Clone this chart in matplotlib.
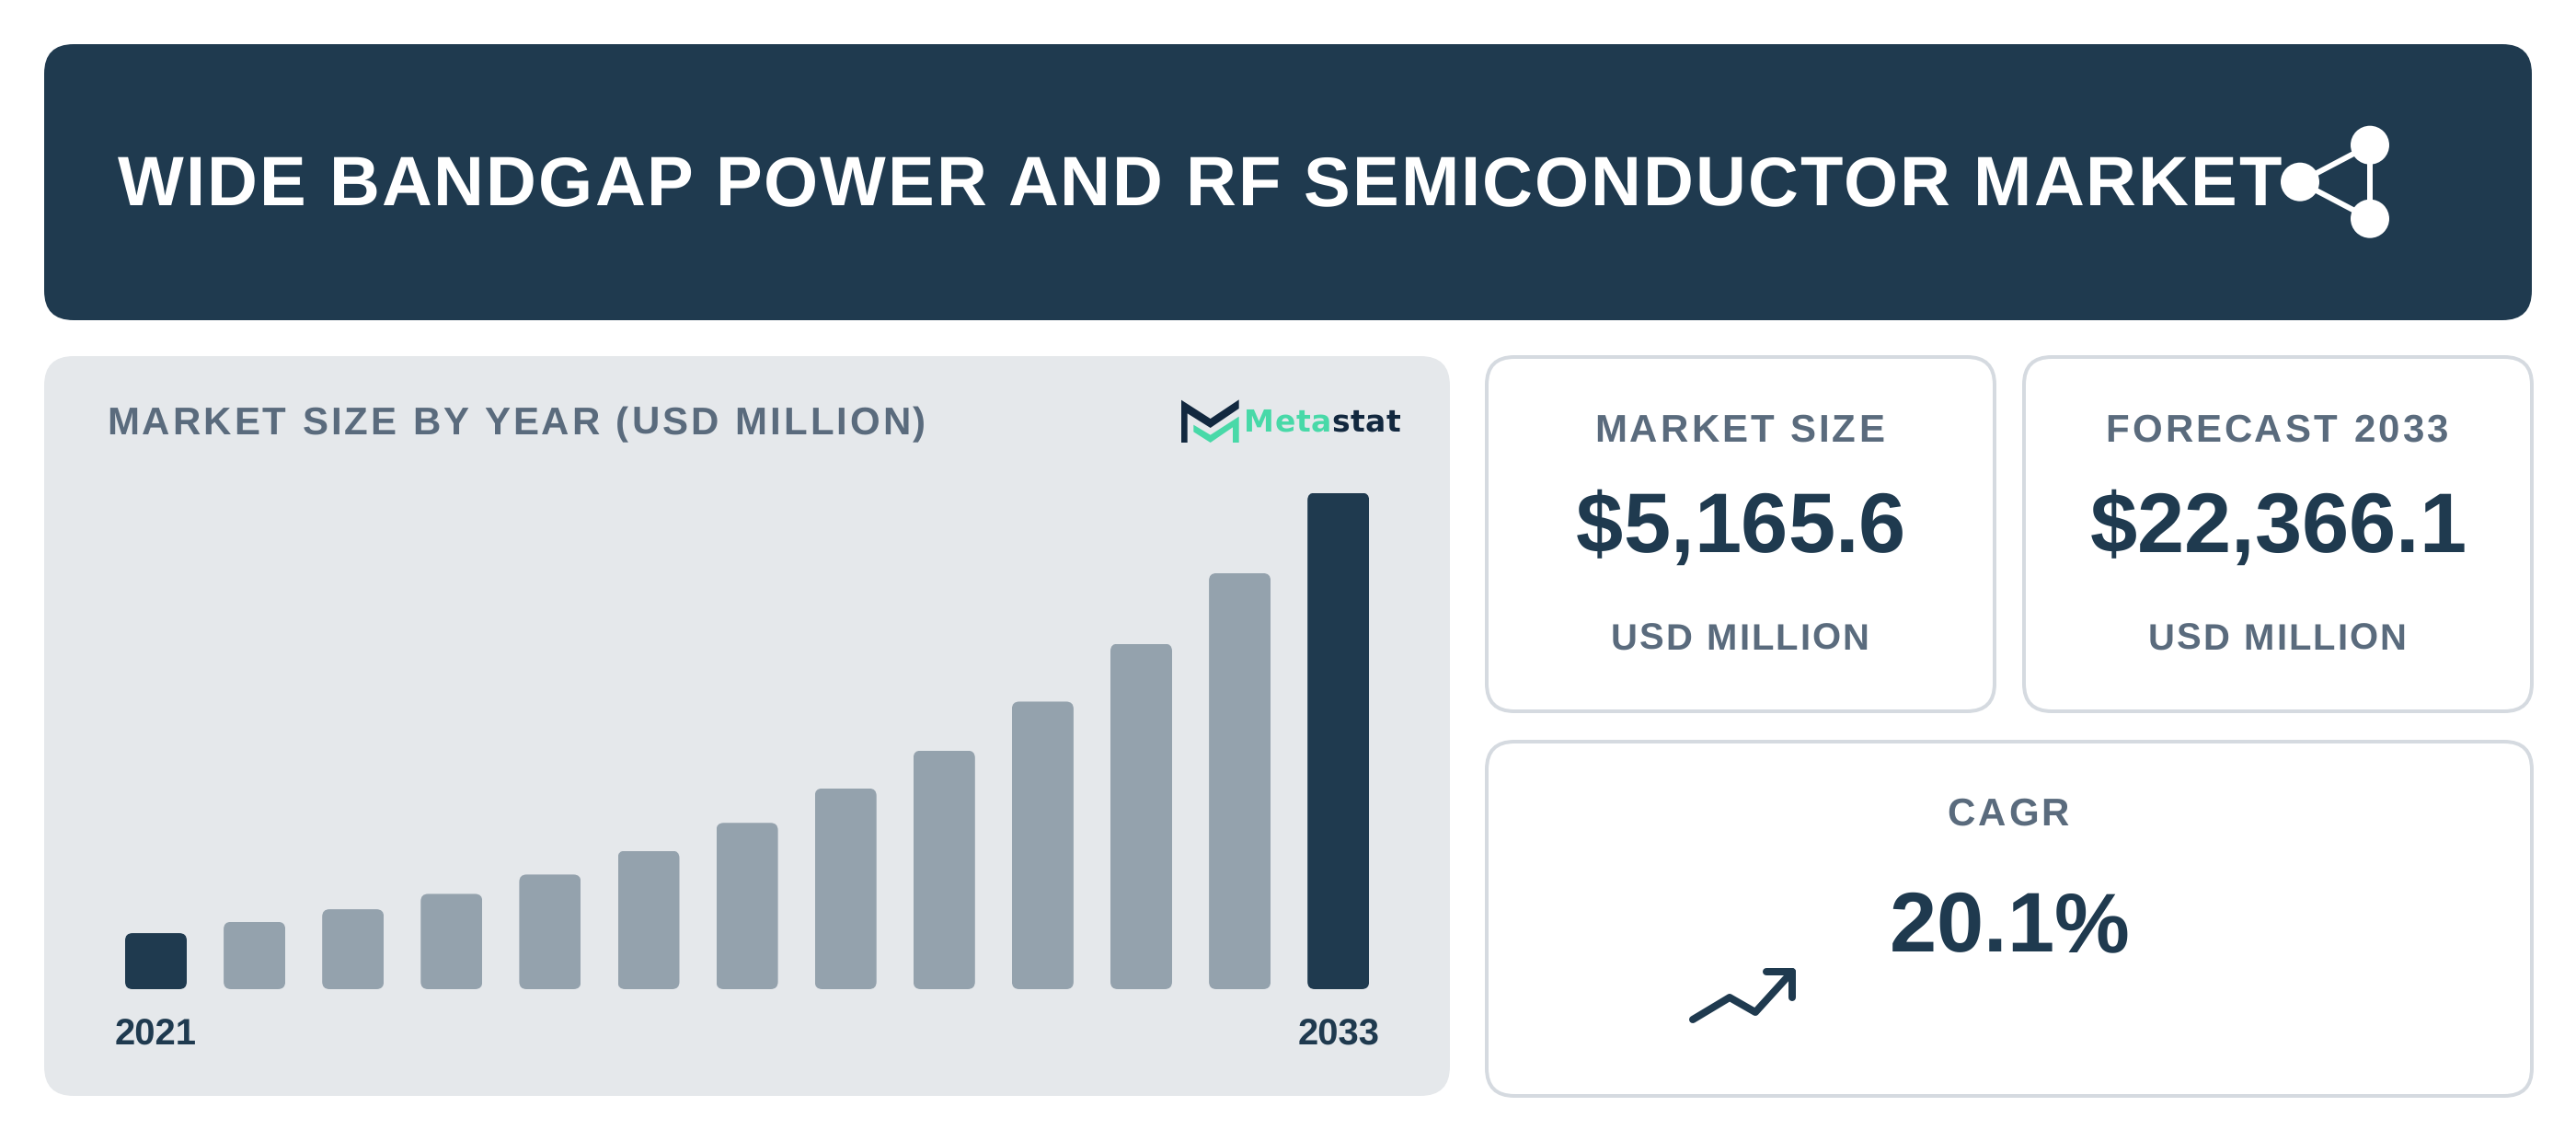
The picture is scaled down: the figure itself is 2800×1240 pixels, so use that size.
import matplotlib
matplotlib.use("Agg")
import matplotlib.pyplot as plt
from matplotlib.patches import FancyBboxPatch, Circle, Polygon
from matplotlib.text import Text
from matplotlib.transforms import IdentityTransform, Bbox
from matplotlib.font_manager import FontProperties, findfont, get_font
from matplotlib.ft2font import LoadFlags, Kerning

# ---- data -------------------------------------------------------------
years = [2021, 2022, 2023, 2024, 2025, 2026, 2027, 2028, 2029, 2030, 2031, 2032, 2033]
market_size = [2525, 3035, 3601, 4293, 5165.6, 6239, 7493, 9045, 10751, 12957, 15566, 18741, 22366.1]
highlight_years = [2021, 2033]
title_text = "WIDE BANDGAP POWER AND RF SEMICONDUCTOR MARKET"
panel_title = "MARKET SIZE BY YEAR (USD MILLION)"
card_label_size = "MARKET SIZE"
card_value_size = "$5,165.6"
card_label_forecast = "FORECAST 2033"
card_value_forecast = "$22,366.1"
card_unit = "USD MILLION"
card_label_cagr = "CAGR"
card_value_cagr = "20.1%"

# ---- styling ----------------------------------------------------------
NAVY = "#1F3A4F"
BAR_MUTED = "#94A2AD"
PANEL = "#E5E8EB"
GREY = "#5A6B7D"
BORDER = "#D5DAE0"
LOGO_DARK = "#12283F"
LOGO_GREEN = "#48D9A8"
W, H, DPI = 2800, 1240, 100

plt.rcParams["text.hinting"] = "no_hinting"
plt.rcParams["font.family"] = ["Liberation Sans", "DejaVu Sans"]


def px(size):
    return size * 72 / DPI


class SpacedText(Text):
    """One text artist whose glyphs are laid out with CSS-like letter spacing."""

    def __init__(self, x, y, s, spacing=0.0, **kw):
        super().__init__(x, y, s, va="baseline", **kw)
        self._spacing = spacing

    def _glyph_positions(self):
        font = get_font(findfont(self.get_fontproperties()))
        font.set_size(self.get_fontsize(), DPI)
        pen, prev, out = 0.0, None, []
        for c in self.get_text():
            idx = font.get_char_index(ord(c))
            if prev is not None:
                pen += font.get_kerning(prev, idx, Kerning.DEFAULT) / 64
            out.append(pen)
            glyph = font.load_char(ord(c), flags=LoadFlags.NO_HINTING)
            pen += glyph.linearHoriAdvance / 65536 + self._spacing
            prev = idx
        return out, pen

    def _origin(self):
        pos, total = self._glyph_positions()
        x, y = self.get_transform().transform(self.get_unitless_position())
        if self.get_horizontalalignment() == "center":
            x -= total / 2
        return x, y, pos, total

    def draw(self, renderer):
        if not self.get_visible():
            return
        x, y, pos, _ = self._origin()
        for c, dx in zip(self.get_text(), pos):
            if c == " ":
                continue
            t = Text(x + dx, y, c, color=self.get_color(), va="baseline", ha="left",
                     fontproperties=self.get_fontproperties(),
                     transform=IdentityTransform())
            t.set_figure(self.get_figure())
            t.draw(renderer)

    def get_window_extent(self, renderer=None, dpi=None):
        x, y, _, total = self._origin()
        size = self.get_fontsize() * DPI / 72
        return Bbox.from_extents(x, y - 0.21 * size, x + total, y + 0.73 * size)


fig = plt.figure(figsize=(W / DPI, H / DPI), dpi=DPI, facecolor="white")
bg = fig.add_axes([0, 0, 1, 1])
bg.set_xlim(0, W)
bg.set_ylim(H, 0)
bg.axis("off")


def box(x0, y0, x1, y1, r, fc, ec="none", lw=0):
    bg.add_patch(FancyBboxPatch((x0, y0), x1 - x0, y1 - y0,
                                boxstyle=f"round,pad=0,rounding_size={r}",
                                fc=fc, ec=ec, lw=lw))


def label(x, y, s, size, color, spacing=0.0, ha="center", family="Liberation Sans"):
    t = SpacedText(x, y, s, spacing=spacing, color=color, ha=ha,
                   fontproperties=FontProperties(family=family, weight="bold", size=px(size)),
                   transform=bg.transData)
    bg.add_artist(t)
    return t


# ---- containers -------------------------------------------------------
box(48, 48, 2752, 348, 32, NAVY)
box(48, 387, 1576, 1191, 32, PANEL)
box(1616, 388, 2168, 773, 30, "white", BORDER, px(4))
box(2200, 388, 2752, 773, 30, "white", BORDER, px(4))
box(1616, 806, 2752, 1191, 30, "white", BORDER, px(4))

# ---- header -----------------------------------------------------------
label(128, 223, title_text, 76, "white", spacing=2, ha="left")
share = [(2500, 197.7), (2576, 157.7), (2576, 237.7)]
for a, b in [(0, 1), (0, 2), (1, 2)]:
    bg.plot([share[a][0], share[b][0]], [share[a][1], share[b][1]], color="white", lw=px(6))
for c in share:
    bg.add_patch(Circle(c, 21, fc="white", ec="none", zorder=3))

# ---- panel heading and logo --------------------------------------------
label(116, 472, panel_title, 42, GREY, spacing=3, ha="left")


def logo_xy(points):
    return [(1270 + cx / 3, 420 + cy / 3) for cx, cy in points]


bg.add_patch(Polygon(logo_xy([(42, 44), (137, 105), (230, 43), (230, 72), (137, 135),
                              (62, 88), (62, 183), (42, 183)]), fc=LOGO_DARK, ec="none"))
bg.add_patch(Polygon(logo_xy([(82, 125), (137, 158), (230, 98), (230, 183), (210, 183),
                              (210, 133), (137, 183), (82, 148)]), fc=LOGO_GREEN, ec="none"))
label(1352, 469, "Meta", 33, LOGO_GREEN, spacing=0.5, ha="left", family="DejaVu Sans")
label(1447, 469, "stat", 33, LOGO_DARK, spacing=0.5, ha="left", family="DejaVu Sans")

# ---- KPI cards --------------------------------------------------------
label(1892, 480, card_label_size, 42, GREY, spacing=3)
label(1892, 600, card_value_size, 92, NAVY)
label(1892, 706, card_unit, 40, GREY, spacing=2)
label(2476, 480, card_label_forecast, 42, GREY, spacing=3)
label(2476, 600, card_value_forecast, 92, NAVY)
label(2476, 706, card_unit, 40, GREY, spacing=2)
label(2184, 897, card_label_cagr, 42, GREY, spacing=3)
label(2184, 1034, card_value_cagr, 92, NAVY)

bg.plot([1840, 1880, 1908, 1948], [1108, 1084, 1100, 1056], color=NAVY, lw=px(8),
        solid_capstyle="round", solid_joinstyle="round")
bg.plot([1920, 1948, 1948], [1056, 1056, 1084], color=NAVY, lw=px(8),
        solid_capstyle="round", solid_joinstyle="round")

# ---- bar chart --------------------------------------------------------
PLOT_L, PLOT_R, PLOT_T, PLOT_B = 120, 1505, 500, 1075
PITCH, BAR_W = 107.1, 67
FIRST_C = 169.5
ax = fig.add_axes([PLOT_L / W, 1 - PLOT_B / H, (PLOT_R - PLOT_L) / W, (PLOT_B - PLOT_T) / H])
ax.patch.set_visible(False)
ax.set_xlim((PLOT_L - FIRST_C) / PITCH, (PLOT_R - FIRST_C) / PITCH)
units_per_px = max(market_size) / 539.5
ax.set_ylim(0, (PLOT_B - PLOT_T) * units_per_px)
positions = list(range(len(years)))
colors = [NAVY if y in highlight_years else BAR_MUTED for y in years]
bars = ax.bar(positions, market_size, width=BAR_W / PITCH, color=colors, linewidth=0)
radius_px = 8
for bar in bars:
    rounded = FancyBboxPatch((bar.get_x(), 0), bar.get_width(), bar.get_height(),
                             boxstyle=f"round,pad=0,rounding_size={radius_px / PITCH}",
                             mutation_aspect=units_per_px * PITCH,
                             transform=ax.transData)
    bar.set_clip_path(rounded)
for s in ax.spines.values():
    s.set_visible(False)
ax.set_yticks([])
ax.set_xticks([positions[0], positions[-1]], [str(years[0]), str(years[-1])],
              fontproperties=FontProperties(family="Liberation Sans", weight="bold", size=px(40)),
              color=NAVY)
ax.tick_params(axis="x", length=0, pad=px(32))

fig.savefig("out.png", dpi=DPI, facecolor="white")
